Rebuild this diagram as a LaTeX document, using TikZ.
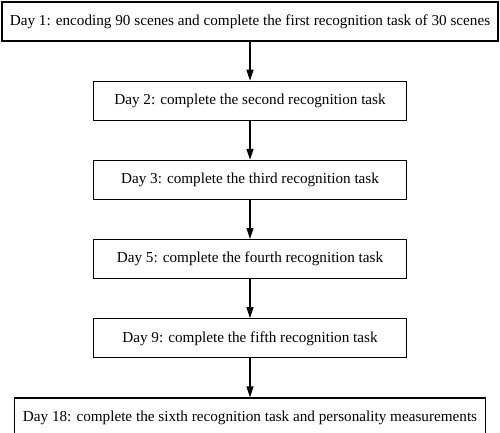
\documentclass[tikz,border=0pt]{standalone}
\usepackage{fontspec}
\setmainfont{Liberation Serif}
\usetikzlibrary{arrows.meta,positioning}
\begin{document}
\begin{tikzpicture}[x=1pt,y=1pt]
\tikzset{node distance=39pt}
\tikzset{stage/.style={draw,line width=1.2pt,minimum height=39pt,inner sep=0pt,
font=\fontsize{15.2}{17}\selectfont}}
\tikzset{flow/.style={draw,line width=1.2pt,-{Triangle[length=11pt,width=7pt]}}}
\useasboundingbox (0,0) rectangle (500,-433);
\node[stage,minimum width=496pt] (day1) at (250,-21.5)
{Day 1: encoding 90 scenes and complete the first recognition task of 30 scenes};
\node[stage,minimum width=313pt,below=of day1] (day2) {Day 2: complete the second recognition task};
\node[stage,minimum width=313pt,below=of day2] (day3) {Day 3: complete the third recognition task};
\node[stage,minimum width=313pt,below=of day3] (day5) {Day 5: complete the fourth recognition task};
\node[stage,minimum width=313pt,below=of day5] (day9) {Day 9: complete the fifth recognition task};
\node[stage,minimum width=471pt,below=of day9] (day18)
{Day 18: complete the sixth recognition task and personality measurements};
\foreach \from/\to in {day1/day2,day2/day3,day3/day5,day5/day9,day9/day18}
\draw[flow] (\from) -- (\to);
\end{tikzpicture}
\end{document}
